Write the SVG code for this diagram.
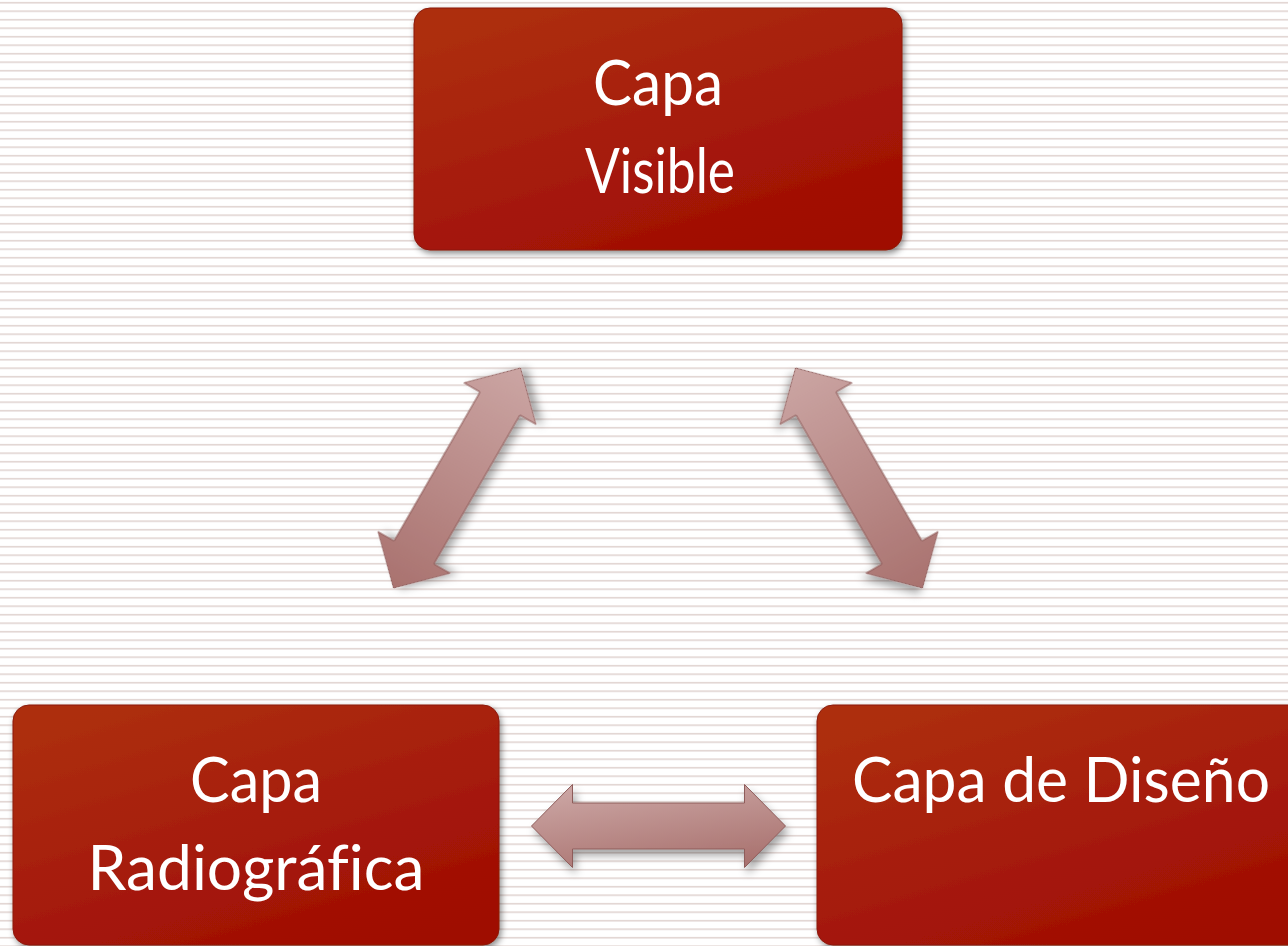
<svg xmlns="http://www.w3.org/2000/svg" width="1288" height="946" viewBox="0 0 1288 946">
  <defs>
    <pattern id="stripes" x="0" y="0" width="20" height="8.5" patternUnits="userSpaceOnUse">
      <rect x="0" y="0" width="20" height="8.5" fill="#ffffff"/>
      <rect x="0" y="1.9" width="20" height="1.6" fill="#e2d5d2"/>
    </pattern>
    <linearGradient id="boxGrad" x1="0.2" y1="0" x2="0.8" y2="1">
      <stop offset="0" stop-color="#ad2f11"/>
      <stop offset="1" stop-color="#9f0a03"/>
    </linearGradient>
    <linearGradient id="arrowGradH" x1="0.3" y1="0" x2="0.7" y2="1">
      <stop offset="0" stop-color="#cba5a3"/>
      <stop offset="1" stop-color="#a9726f"/>
    </linearGradient>
    <linearGradient id="arrowGradL" x1="1" y1="0.5" x2="0" y2="0.5">
      <stop offset="0" stop-color="#cba5a3"/>
      <stop offset="1" stop-color="#a9726f"/>
    </linearGradient>
    <linearGradient id="arrowGradR" x1="0" y1="0.5" x2="1" y2="0.5">
      <stop offset="0" stop-color="#cba5a3"/>
      <stop offset="1" stop-color="#a9726f"/>
    </linearGradient>
    <filter id="boxShadow" x="-10%" y="-10%" width="120%" height="125%">
      <feDropShadow dx="2" dy="3" stdDeviation="3" flood-color="#000" flood-opacity="0.45"/>
    </filter>
    <filter id="arrowShadow" x="-30%" y="-30%" width="160%" height="160%">
      <feDropShadow dx="3" dy="6" stdDeviation="4" flood-color="#000" flood-opacity="0.35"/>
    </filter>
  </defs>
  <style>
    .box { fill: url(#boxGrad); stroke: #8a1a08; stroke-width: 1; filter: url(#boxShadow); }
    .label { font-family: "Lato", "Open Sans", "DejaVu Sans", sans-serif; font-size: 62px; fill: #ffffff; text-anchor: middle; font-variant-ligatures: none; font-feature-settings: "liga" 0; }
    .arrow { stroke: #8e5c5a; stroke-width: 1; filter: url(#arrowShadow); }
  </style>

  <rect x="0" y="0" width="1288" height="946" fill="url(#stripes)"/>

  <g id="connectors">
    <path class="arrow" fill="url(#arrowGradL)" transform="translate(457,478) rotate(-60)" d="M-127,0 L-86,-41.5 L-86,-23 L86,-23 L86,-41.5 L127,0 L86,41.5 L86,23 L-86,23 L-86,41.5 Z"/>
    <path class="arrow" fill="url(#arrowGradR)" transform="translate(859,478) rotate(60)" d="M-127,0 L-86,-41.5 L-86,-23 L86,-23 L86,-41.5 L127,0 L86,41.5 L86,23 L-86,23 L-86,41.5 Z"/>
    <path class="arrow" fill="url(#arrowGradH)" transform="translate(658.5,826)" d="M-127,0 L-86,-41.5 L-86,-23 L86,-23 L86,-41.5 L127,0 L86,41.5 L86,23 L-86,23 L-86,41.5 Z"/>
  </g>

  <g id="node-visible">
    <rect class="box" x="414" y="8" width="488" height="242" rx="16" ry="16"/>
    <text class="label" x="658" y="105" textLength="130" lengthAdjust="spacingAndGlyphs">Capa</text>
    <text class="label" x="660" y="193" textLength="150" lengthAdjust="spacingAndGlyphs">Visible</text>
  </g>

  <g id="node-radiografica">
    <rect class="box" x="13" y="705" width="486" height="240" rx="16" ry="16"/>
    <text class="label" x="256" y="802" textLength="132" lengthAdjust="spacingAndGlyphs">Capa</text>
    <text class="label" x="256" y="890" textLength="337" lengthAdjust="spacingAndGlyphs">Radiográfica</text>
  </g>

  <g id="node-diseno">
    <rect class="box" x="817" y="705" width="488" height="240" rx="16" ry="16"/>
    <text class="label" x="1061" y="802" textLength="418" lengthAdjust="spacingAndGlyphs">Capa de Diseño</text>
  </g>
</svg>
